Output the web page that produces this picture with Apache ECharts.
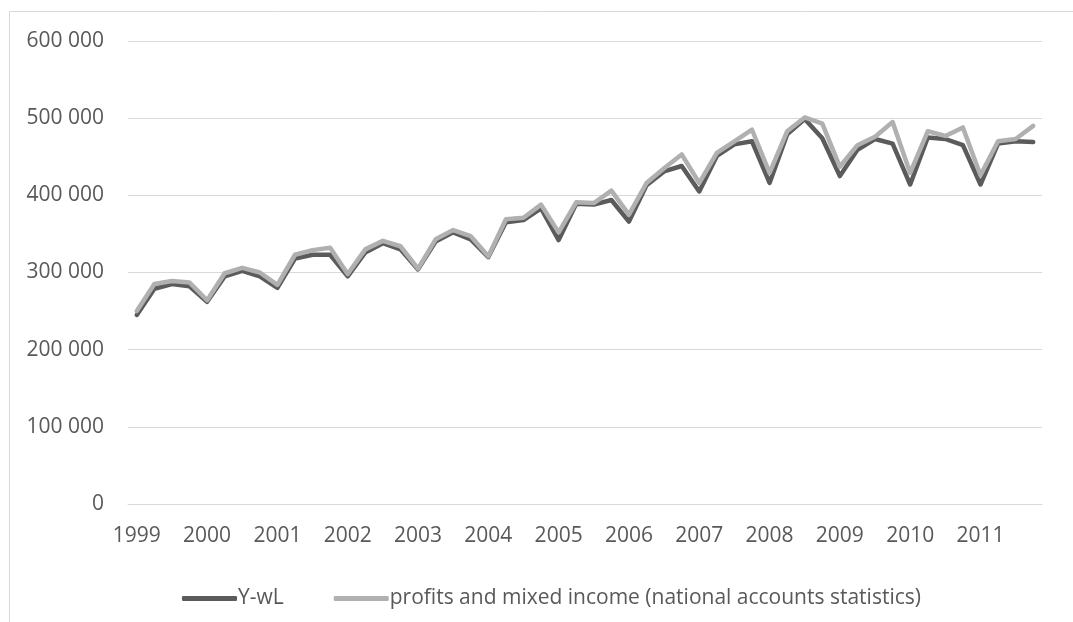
<!DOCTYPE html>
<html>
<head>
<meta charset="utf-8">
<script src="https://cdn.jsdelivr.net/npm/echarts@6/dist/echarts.min.js"></script>
<style>
html,body{margin:0;padding:0;background:#fff;}
#chart{width:1073px;height:622px;}
</style>
</head>
<body>
<div id="chart"></div>
<script>
const years = ["1999","2000","2001","2002","2003","2004","2005","2006","2007","2008","2009","2010","2011"];
const quarters = ["Q1","Q2","Q3","Q4"];
const categories = [];
years.forEach(y => quarters.forEach(q => categories.push(y + " " + q)));

const seriesNames = ["Y-wL", "profits and mixed income (national accounts statistics)"];

const yWL = [
  245000, 279000, 285000, 282000,
  262000, 295000, 302000, 295000,
  280000, 318000, 323000, 323000,
  295000, 326000, 338000, 330000,
  304000, 340000, 352000, 343000,
  320000, 365000, 368000, 383000,
  342000, 389000, 388000, 394000,
  366000, 413000, 431000, 438000,
  405000, 451000, 466000, 470000,
  416000, 479000, 499000, 474000,
  425000, 459000, 473000, 467000,
  414000, 475000, 473000, 465000,
  414000, 467000, 470000, 469000
];

const profits = [
  250000, 285000, 289000, 287000,
  264000, 299000, 306000, 300000,
  284000, 323000, 329000, 332000,
  298000, 330000, 341000, 334000,
  305000, 343000, 355000, 347000,
  321000, 369000, 371000, 388000,
  352000, 391000, 390000, 406000,
  375000, 416000, 435000, 453000,
  416000, 455000, 470000, 485000,
  429000, 483000, 501000, 493000,
  437000, 465000, 476000, 495000,
  429000, 483000, 477000, 488000,
  426000, 470000, 473000, 490000
];

const FONT = "Open Sans";
const TXT = "#595959";

const chart = echarts.init(document.getElementById("chart"), null, {renderer: "canvas"});
chart.setOption({
  animation: false,
  backgroundColor: "#ffffff",
  textStyle: {fontFamily: FONT},
  grid: {left: 128, right: 31, top: 41, bottom: 118, containLabel: false},
  graphic: [{
    type: "polyline",
    silent: true,
    shape: {points: [[9.5, 622], [9.5, 11.5], [1073, 11.5]]},
    style: {stroke: "#d9d9d9", lineWidth: 1, fill: null}
  }],
  legend: {
    left: 177,
    top: 583,
    icon: "roundRect",
    itemWidth: 55,
    itemHeight: 5,
    itemGap: 50,
    textStyle: {fontFamily: FONT, fontSize: 21, color: TXT, padding: [0, 0, 0, -4]},
    data: seriesNames
  },
  xAxis: {
    type: "category",
    data: categories,
    boundaryGap: true,
    axisLine: {show: true, lineStyle: {color: "#d9d9d9", width: 1}},
    axisTick: {show: false},
    axisLabel: {
      interval: 3,
      margin: 22,
      fontFamily: FONT,
      fontSize: 21,
      color: TXT,
      formatter: v => v.split(" ")[0]
    },
    splitLine: {show: false}
  },
  yAxis: {
    type: "value",
    min: 0,
    max: 600000,
    interval: 100000,
    axisLine: {show: false},
    axisTick: {show: false},
    axisLabel: {
      margin: 24,
      fontFamily: FONT,
      fontSize: 21,
      color: TXT,
      formatter: v => String(v).replace(/\B(?=(\d{3})+(?!\d))/g, " ")
    },
    splitLine: {show: true, lineStyle: {color: "#d9d9d9", width: 1}}
  },
  series: [
    {
      name: seriesNames[0],
      type: "line",
      data: yWL,
      symbol: "none",
      itemStyle: {color: "#5b5b5b"},
      lineStyle: {color: "#5b5b5b", width: 4.5, cap: "round", join: "round"},
      z: 2
    },
    {
      name: seriesNames[1],
      type: "line",
      data: profits,
      symbol: "none",
      itemStyle: {color: "#b0b0b0"},
      lineStyle: {color: "#b0b0b0", width: 4.5, cap: "round", join: "round"},
      z: 3
    }
  ]
});
</script>
</body>
</html>
